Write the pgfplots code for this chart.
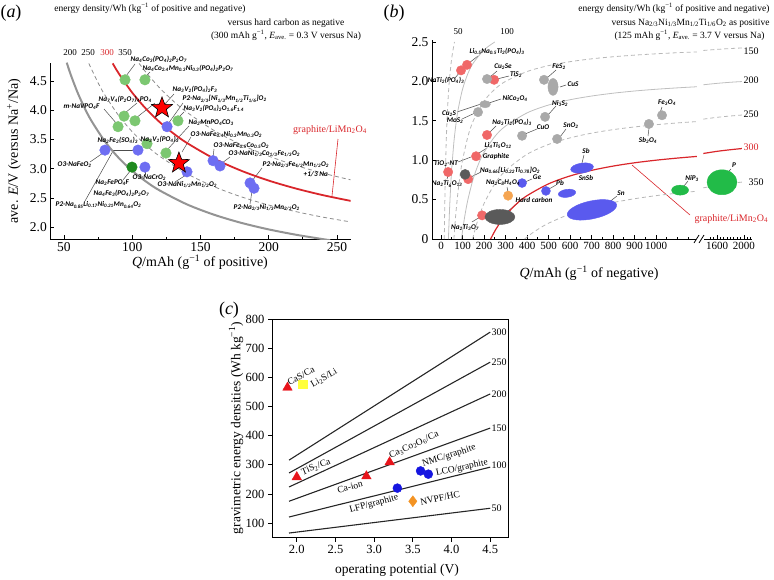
\documentclass[border=0pt]{standalone}
\usepackage{fontspec}
\setmainfont{Liberation Serif}
\newfontfamily\lab{Carlito}
\usepackage{pgfplots}
\pgfplotsset{compat=1.18}
\newcommand\s[1]{\textsubscript{#1}}
\newcommand\su[1]{\textsuperscript{#1}}
\newcommand\fs[1]{\fontsize{#1}{#1}\selectfont}
\newcommand\fl{\fontsize{7.2}{7.4}\selectfont\lab\bfseries\itshape}
\definecolor{agreen}{HTML}{7CC771}
\definecolor{dgreen}{HTML}{1F8A1F}
\definecolor{ablue}{HTML}{6E6EF2}
\definecolor{ared}{HTML}{D9262B}
\definecolor{bred}{HTML}{F06868}
\definecolor{bgray}{HTML}{A9A9A9}
\definecolor{bdgray}{HTML}{5A5A5A}
\definecolor{bblue}{HTML}{5A5AEE}
\definecolor{borange}{HTML}{F5A552}
\definecolor{bgreen}{HTML}{22BB48}
\definecolor{cred}{HTML}{E8141B}
\definecolor{cyellow}{HTML}{FFFF3C}
\definecolor{cblue}{HTML}{1515E0}
\definecolor{corange}{HTML}{F39323}
\pgfdeclareplotmark{fstar}{%
  \pgfpathmoveto{\pgfpointpolar{90}{\pgfplotmarksize}}%
  \pgfpathlineto{\pgfpointpolar{126}{0.42\pgfplotmarksize}}%
  \pgfpathlineto{\pgfpointpolar{162}{\pgfplotmarksize}}%
  \pgfpathlineto{\pgfpointpolar{198}{0.42\pgfplotmarksize}}%
  \pgfpathlineto{\pgfpointpolar{234}{\pgfplotmarksize}}%
  \pgfpathlineto{\pgfpointpolar{270}{0.42\pgfplotmarksize}}%
  \pgfpathlineto{\pgfpointpolar{306}{\pgfplotmarksize}}%
  \pgfpathlineto{\pgfpointpolar{342}{0.42\pgfplotmarksize}}%
  \pgfpathlineto{\pgfpointpolar{18}{\pgfplotmarksize}}%
  \pgfpathlineto{\pgfpointpolar{54}{0.42\pgfplotmarksize}}%
  \pgfpathclose
  \pgfusepathqfillstroke
}
\tikzset{lead/.style={draw=black!70,line width=0.5pt}}
\begin{document}
\begin{tikzpicture}
\useasboundingbox (0,0) rectangle (774pt,-579pt);
% ---------- leader lines (under everything)
\begin{scope}[x=1pt,y=-1pt]
 % panel a
 \draw[lead] (135,64)--(126,76);
 \draw[lead] (150,72)--(145,77);
 \draw[lead] (174,94)--(164,105);
 \draw[lead] (183,103)--(168,124);
 \draw[lead] (184,112)--(178,118);
 \draw[lead] (189,126)--(167,150);
 \draw[lead] (191,137)--(182,152);
 \draw[lead] (214,149)--(213,157);
 \draw[lead] (230,157)--(222,163);
 \draw[lead] (137,103)--(125,113);
 \draw[lead] (155,103)--(136,118);
 \draw[lead] (104,109)--(117,124);
 \draw[lead] (113,150)--(134,150);
 \draw[lead] (150,141)--(148,143);
 \draw[lead] (90,162)--(103,153);
 \draw[lead] (123,180)--(131,170);
 \draw[lead] (85,201)--(113,151);
 \draw[lead] (145,175)--(145,170);
 \draw[lead] (175,182)--(186,175);
 \draw[lead] (262,168)--(252,181);
 \draw[lead] (250,204)--(252,191);
 \draw[ared,line width=0.6pt] (338,139)--(332,196);
 % panel b
 \draw[lead] (478,56)--(469,63);
 \draw[lead] (455,78)--(460,72);
 \draw[lead] (497,71)--(490,77);
 \draw[lead] (509,76)--(497,79);
 \draw[lead] (556,70)--(547,78);
 \draw[lead] (566,85)--(560,87);
 \draw[lead] (501,99)--(489,103);
 \draw[lead] (457,112)--(481,104);
 \draw[lead] (462,119)--(475,113);
 \draw[lead] (556,106)--(548,115);
 \draw[lead] (496,126)--(490,132);
 \draw[lead] (537,129)--(525,134);
 \draw[lead] (566,129)--(560,137);
 \draw[lead] (487,148)--(479,153);
 \draw[lead] (458,162)--(471,157);
 \draw[lead] (447,179)--(448,176);
 \draw[lead] (481,172)--(471,177);
 \draw[lead] (532,179)--(525,182);
 \draw[lead] (507,187)--(508,192);
 \draw[lead] (556,185)--(549,189);
 \draw[lead] (584,155)--(582,163);
 \draw[lead] (518,203)--(508,211);
 \draw[lead] (472,222)--(480,217);
 \draw[lead] (617,196)--(608,203);
 \draw[lead] (688,181)--(684,186);
 \draw[lead] (731,169)--(727,173);
 \draw[lead] (662,107)--(660,113);
 \draw[lead] (648,136)--(649,128);
 \draw[ared,line width=0.6pt] (632,165)--(690,215);
\end{scope}
% ================= panel (a)
\begin{axis}[
  at={(50.35pt,-239.2pt)}, anchor=south west,
  scale only axis, width=300.3pt, height=176.4pt,
  xmin=40, xmax=260, ymin=1.8, ymax=4.81,
  axis x line=bottom, axis y line=left,
  axis line style={-, line width=0.9pt},
  tick align=inside,
  xtick={50,100,150,200,250}, xticklabels={50,100,150,200,250},
  minor xtick={75,125,175,225},
  ytick={2.0,2.5,3.0,3.5,4.0,4.5}, yticklabels={2.0,2.5,3.0,3.5,4.0,4.5},
  tick label style={font=\fs{13.5}},
  major tick length=4pt, minor tick length=2.5pt,
  every tick/.style={black, line width=0.8pt},
]
\addplot[black!42, line width=2pt, smooth] coordinates {(52,4.813)(55,4.603)(60,4.300)(65,4.044)(70,3.824)(80,3.467)(90,3.189)(100,2.967)(110,2.785)(120,2.633)(140,2.395)(160,2.217)(180,2.078)(200,1.967)(220,1.876)(240,1.800)(245,1.783)};
\addplot[black!45, line width=0.8pt, dash pattern=on 4pt off 3pt, smooth] coordinates {(68.2,4.799)(75,4.467)(80,4.258)(90,3.911)(100,3.633)(110,3.406)(120,3.217)(140,2.919)(160,2.696)(180,2.522)(200,2.383)(220,2.270)(240,2.175)(260,2.095)};
\addplot[ared, line width=1.8pt, smooth] coordinates {(85.7,4.8)(90,4.633)(100,4.3)(110,4.027)(120,3.8)(130,3.608)(140,3.443)(160,3.175)(180,2.967)(200,2.8)(220,2.664)(240,2.55)(260,2.454)};
\addplot[black!45, line width=0.8pt, dash pattern=on 4pt off 3pt, smooth] coordinates {(105,4.8)(110,4.649)(120,4.383)(130,4.159)(140,3.967)(160,3.654)(180,3.411)(200,3.217)(220,3.058)(240,2.925)(260,2.813)};
\addplot[only marks, mark=*, mark size=5.3pt, color=agreen, mark options={fill=agreen,draw=agreen}] coordinates {(94.7,4.52)(109.3,4.52)(133.5,3.82)(94.0,3.90)(102.0,3.82)(89.6,3.72)(110.8,3.43)(124.7,3.27)};
\addplot[only marks, mark=*, mark size=5.3pt, color=dgreen, mark options={fill=dgreen,draw=dgreen}] coordinates {(99.8,3.03)};
\addplot[only marks, mark=*, mark size=5.3pt, color=ablue, mark options={fill=ablue,draw=ablue}] coordinates {(125.5,3.72)(80.0,3.32)(104.2,3.32)(109.3,3.03)(140.1,2.95)(159.2,3.14)(164.3,3.05)(186.3,2.76)(189.2,2.67)};
\addplot[only marks, mark=fstar, mark size=11pt, mark options={fill=red, draw=black, line width=0.6pt}] coordinates {(121.8,4.04)(134.2,3.10)};
\end{axis}
% ================= panel (b)
\begin{axis}[
  at={(432pt,-239pt)}, anchor=south west,
  scale only axis, width=320.1pt, height=198.6pt,
  xmin=-42, xmax=1447, ymin=0, ymax=2.52,
  axis x line=bottom, axis y line=left,
  axis line style={-, line width=0.9pt},
  tick align=inside,
  xtick={0,100,200,300,400,500,600,700,800,900,1000,1284,1409},
  xticklabels={0,100,200,300,400,500,600,700,800,900,1000,1600,2000},
  minor xtick={50,150,250,350,450,550,650,750,850,950,1050,1100,1150,1253,1268,1299,1315,1331,1346,1362,1378,1393,1425,1440},
  ytick={0,0.5,1,1.5,2,2.5}, yticklabels={0,0.5,1.0,1.5,2.0,2.5},
  xticklabel style={font=\fs{11}},
  yticklabel style={font=\fs{13.5}},
  major tick length=4pt, minor tick length=2.5pt,
  every tick/.style={black, line width=0.8pt},
]
\addplot[black!28, line width=0.8pt, dash pattern=on 4pt off 3pt, smooth] coordinates {(15.2,0)(15.5,0.074)(16,0.175)(17,0.359)(18,0.522)(20,0.8)(22.5,1.078)(25,1.3)(30,1.633)(35,1.871)(40,2.05)(50,2.3)(62.5,2.5)};
\addplot[black!25, line width=0.8pt, smooth] coordinates {(34.5,0)(35,0.043)(36,0.122)(38,0.268)(40,0.4)(45,0.678)(50,0.9)(60,1.233)(70,1.471)(80,1.65)(100,1.9)(125,2.1)(150,2.233)(200,2.4)(250,2.5)};
\addplot[black!28, line width=0.8pt, dash pattern=on 4pt off 3pt, smooth] coordinates {(60,0)(62,0.081)(65,0.192)(70,0.357)(80,0.625)(90,0.833)(100,1.0)(125,1.3)(150,1.5)(200,1.75)(250,1.9)(300,2.0)(400,2.125)(500,2.2)(600,2.25)(700,2.286)(800,2.3125)(900,2.333)(1000,2.35)(1100,2.364)(1190,2.374)};
\addplot[black!28, line width=0.8pt, dash pattern=on 4pt off 3pt, smooth] coordinates {(1220,2.3925)(1284,2.406)(1346.5,2.417)(1399.6,2.424)};
\addplot[black!25, line width=0.8pt, smooth] coordinates {(95.2,0)(100,0.1)(110,0.282)(125,0.5)(150,0.767)(175,0.957)(200,1.1)(250,1.3)(300,1.433)(400,1.6)(500,1.7)(600,1.767)(700,1.814)(800,1.85)(900,1.878)(1000,1.9)(1100,1.918)(1190,1.932)};
\addplot[black!25, line width=0.8pt, smooth] coordinates {(1220,1.957)(1284,1.975)(1346.5,1.989)(1399.6,1.998)};
\addplot[black!28, line width=0.8pt, dash pattern=on 4pt off 3pt, smooth] coordinates {(147,0)(160,0.1375)(175,0.271)(200,0.45)(250,0.7)(300,0.867)(400,1.075)(500,1.2)(600,1.283)(700,1.343)(800,1.3875)(900,1.422)(1000,1.45)(1100,1.473)(1190,1.490)};
\addplot[black!28, line width=0.8pt, dash pattern=on 4pt off 3pt, smooth] coordinates {(1220,1.521)(1284,1.544)(1346.5,1.561)(1399.6,1.573)};
\addplot[ared, line width=1.2pt, smooth] coordinates {(230.8,0)(250,0.1)(275,0.209)(300,0.3)(350,0.443)(400,0.55)(500,0.7)(600,0.8)(700,0.871)(800,0.925)(900,0.967)(1000,1.0)(1100,1.027)(1190,1.048)};
\addplot[ared, line width=1.2pt, smooth] coordinates {(1220,1.085)(1284,1.1125)(1346.5,1.133)(1399.6,1.148)};
\addplot[black!28, line width=0.8pt, dash pattern=on 4pt off 3pt, smooth] coordinates {(388.9,0)(420,0.067)(450,0.122)(500,0.2)(600,0.317)(700,0.4)(800,0.4625)(900,0.511)(1000,0.55)(1100,0.582)(1190,0.606)};
\addplot[black!28, line width=0.8pt, dash pattern=on 4pt off 3pt, smooth] coordinates {(1220,0.649)(1284,0.681)(1346.5,0.706)(1399.6,0.722)};
% points
\addplot[only marks, mark=*, mark size=4.7pt, color=bred, mark options={fill=bred,draw=bred}] coordinates {(121,2.21)(93,2.14)(247,2.02)(214,1.32)(163,1.05)(33,0.85)(126,0.76)(191,0.30)};
\addplot[only marks, mark=*, mark size=4.7pt, color=bgray, mark options={fill=bgray,draw=bgray}] coordinates {(214,2.03)(479,2.02)(172,1.61)(484,1.55)(377,1.31)(540,1.27)(967,1.46)(1028,1.57)};
\addplot[only marks, mark=*, mark size=3.6pt, color=bgray, mark options={fill=bgray,draw=bgray,xscale=1.5}] coordinates {(205,1.71)};
\addplot[only marks, mark=*, mark size=8.5pt, color=bgray, mark options={fill=bgray,draw=bgray,xscale=0.6}] coordinates {(521,1.93)};
\addplot[only marks, mark=*, mark size=5pt, color=bdgray, mark options={fill=bdgray,draw=bdgray}] coordinates {(112,0.82)};
\addplot[only marks, mark=*, mark size=7.5pt, color=bdgray, mark options={fill=bdgray,draw=bdgray,xscale=2}] coordinates {(274,0.28)};
\addplot[only marks, mark=*, mark size=4.5pt, color=bblue, mark options={fill=bblue,draw=bblue}] coordinates {(377,0.71)(488,0.61)};
\addplot[only marks, mark=*, mark size=4pt, color=bblue, mark options={fill=bblue,draw=bblue,rotate=8,xscale=2.2}] coordinates {(586,0.58)};
\addplot[only marks, mark=*, mark size=5pt, color=bblue, mark options={fill=bblue,draw=bblue,rotate=8,xscale=2.3}] coordinates {(656,0.90)};
\addplot[only marks, mark=*, mark size=9pt, color=bblue, mark options={fill=bblue,draw=bblue,rotate=12,xscale=2.8}] coordinates {(702,0.37)};
\addplot[only marks, mark=*, mark size=4.7pt, color=borange, mark options={fill=borange,draw=borange}] coordinates {(312,0.55)};
\addplot[only marks, mark=*, mark size=5pt, color=bgreen, mark options={fill=bgreen,draw=bgreen,xscale=1.7}] coordinates {(1112,0.62)};
\addplot[only marks, mark=*, mark size=12.5pt, color=bgreen, mark options={fill=bgreen,draw=bgreen,xscale=1.2}] coordinates {(1307,0.72)};
\end{axis}
% ================= panel (c)
\begin{axis}[
  at={(272pt,-537.7pt)}, anchor=south west,
  scale only axis, width=236pt, height=218.7pt,
  xmin=1.68, xmax=4.73, ymin=50, ymax=800,
  axis line style={line width=0.7pt},
  tick align=outside, tick pos=left,
  xtick={2,2.5,3,3.5,4,4.5}, xticklabels={2.0,2.5,3.0,3.5,4.0,4.5},
  ytick={100,200,300,400,500,600,700,800}, yticklabels={100,200,300,400,500,600,700,800},
  tick label style={font=\fs{12.5}},
  major tick length=4pt,
  every tick/.style={black, line width=0.7pt},
]
\addplot[black!85, line width=1.1pt] coordinates {(1.9,66)(4.5,151)};
\addplot[black!85, line width=1.1pt] coordinates {(1.9,121)(4.5,292)};
\addplot[black!85, line width=1.1pt] coordinates {(1.9,175)(4.5,426)};
\addplot[black!85, line width=1.1pt] coordinates {(1.9,224)(4.5,543)};
\addplot[black!85, line width=1.1pt] coordinates {(1.9,272)(4.5,652)};
\addplot[black!85, line width=1.1pt] coordinates {(1.9,316)(4.5,755)};
\addplot[only marks, mark=triangle*, mark size=5.5pt, color=cred, mark options={fill=cred,draw=cred}] coordinates {(1.88,565)(2.0,258)(2.9,261)(3.2,309)};
\addplot[only marks, mark=square*, mark size=4.3pt, color=cyellow, mark options={fill=cyellow,draw=cyellow}] coordinates {(2.08,577)};
\addplot[only marks, mark=*, mark size=4.5pt, color=cblue, mark options={fill=cblue,draw=cblue}] coordinates {(3.3,220)(3.6,279)(3.7,268)};
\addplot[only marks, mark=diamond*, mark size=5.5pt, color=corange, mark options={fill=corange,draw=corange}] coordinates {(3.5,175)};
\end{axis}
% ---------- text
\begin{scope}[x=1pt,y=-1pt]
 \node[font=\fs{18}] at (11,13) {(\textit{a})};
 \node[font=\fs{18}] at (394,13) {(\textit{b})};
 \node[font=\fs{18}] at (229,310) {(\textit{c})};
 % headers a
 \node[font=\fs{9.5}] at (150,8) {energy density/Wh (kg\su{−1} of positive and negative)};
 \node[font=\fs{9.5}] at (286,23) {versus hard carbon as negative};
 \node[font=\fs{9.5}] at (286,35) {(300 mAh g\su{−1}, \textit{E}\s{ave.} = 0.3 V versus Na)};
 % headers b
 \node[font=\fs{9.5},anchor=east] at (773,8) {energy density/Wh (kg\su{−1} of positive and negative)};
 \node[font=\fs{9.5},anchor=east] at (773,23) {versus Na\s{2/3}Ni\s{1/3}Mn\s{1/2}Ti\s{1/6}O\s{2} as positive};
 \node[font=\fs{9.5},anchor=east] at (768,35) {(125 mAh g\su{−1}, \textit{E}\s{ave.} = 3.7 V versus Na)};
 % axis labels
 \node[font=\fs{14},rotate=90] at (14,151) {ave. \textit{E}/V (versus Na\su{+}/Na)};
 \node[font=\fs{14}] at (200,262) {\textit{Q}/mAh (g\su{−1} of positive)};
 \node[font=\fs{14}] at (589,273) {\textit{Q}/mAh (g\su{−1} of negative)};
 \node[font=\fs{13.5},rotate=90] at (236,428) {gravimetric energy densities (Wh kg\su{−1})};
 \node[font=\fs{13.5}] at (397,570) {operating potential (V)};
 % curve labels a
 \node[font=\fs{9}] at (70,53) {200};
 \node[font=\fs{9}] at (88,53) {250};
 \node[font=\fs{9},text=ared] at (107,53) {300};
 \node[font=\fs{9}] at (125,53) {350};
 \node[font=\fs{10},text=ared] at (330,130) {graphite/LiMn\s{2}O\s{4}};
 % curve labels b
 \node[font=\fs{9}] at (458,32) {50};
 \node[font=\fs{9}] at (507,32) {100};
 \node[font=\fs{10}] at (751,51) {150};
 \node[font=\fs{10}] at (751,80) {200};
 \node[font=\fs{10}] at (751,114) {250};
 \node[font=\fs{10},text=ared] at (751,147) {300};
 \node[font=\fs{10}] at (756,182) {350};
 \node[font=\fs{10},text=ared,anchor=west] at (691,219) {graphite/LiMn\s{2}O\s{4}};
 % curve labels c
 \node[font=\fs{10},anchor=west] at (488,332) {300};
 \node[font=\fs{10},anchor=west] at (488,362) {250};
 \node[font=\fs{10},anchor=west] at (488,394) {200};
 \node[font=\fs{10},anchor=west] at (488,428) {150};
 \node[font=\fs{10},anchor=west] at (488,465) {100};
 \node[font=\fs{10},anchor=west] at (488,508) {50};
 % point labels c
 \node[font=\fs{9.5},rotate=28] at (301,376) {CaS/Ca};
 \node[font=\fs{9.5},rotate=30] at (324,378) {Li\s{2}S/Li};
 \node[font=\fs{9.5},rotate=22] at (316,467) {TiS\s{2}/Ca};
 \node[font=\fs{9.5},rotate=15] at (350,487) {Ca-ion};
 \node[font=\fs{9.5},rotate=25] at (414,445) {Ca\s{3}Co\s{2}O\s{6}/Ca};
 \node[font=\fs{9.5},rotate=18] at (449,456) {NMC/graphite};
 \node[font=\fs{9.5},rotate=12] at (462,468) {LCO/graphite};
 \node[font=\fs{9.5},rotate=15] at (374,504) {LFP/graphite};
 \node[font=\fs{9.5},rotate=12] at (440,498) {NVPF/HC};
 % point labels a
 \tikzset{every node/.append style={inner sep=0.5pt}}
 \node[font=\fl,anchor=west] at (130,59) {Na\s{4}Co\s{3}(PO\s{4})\s{2}P\s{2}O\s{7}};
 \node[font=\fl,anchor=west] at (142,68) {Na\s{4}Co\s{2.4}Mn\s{0.3}Ni\s{0.3}(PO\s{4})\s{2}P\s{2}O\s{7}};
 \node[font=\fl,anchor=west] at (172,89) {Na\s{3}V\s{2}(PO\s{4})\s{2}F\s{3}};
 \node[font=\fl,anchor=west] at (182,99) {P2-Na\s{2/3}[Ni\s{1/3}Mn\s{1/2}Ti\s{1/6}]O\s{2}};
 \node[font=\fl,anchor=west] at (183,108) {Na\s{3}V\s{2}(PO\s{4})\s{2}O\s{1.6}F\s{1.4}};
 \node[font=\fl,anchor=west] at (188,123) {Na\s{2}MnPO\s{4}CO\s{3}};
 \node[font=\fl,anchor=west] at (190,134) {O3-NaFe\s{0.4}Ni\s{0.3}Mn\s{0.3}O\s{2}};
 \node[font=\fl,anchor=west] at (213,146) {O3-NaFe\s{0.5}Co\s{0.5}O\s{2}};
 \node[font=\fl,anchor=west] at (228,154) {O3-NaNi\s{1/3}Co\s{1/3}Fe\s{1/3}O\s{2}};
 \node[font=\fl,anchor=west] at (98,99) {Na\s{7}V\s{4}(P\s{2}O\s{7})\s{4}PO\s{4}};
 \node[font=\fl,anchor=west] at (63,107) {m-NaVPO\s{4}F};
 \node[font=\fl,anchor=west] at (97,140) {Na\s{2}Fe\s{2}(SO\s{4})\s{3}};
 \node[font=\fl,anchor=west] at (140,139) {Na\s{3}V\s{2}(PO\s{4})\s{3}};
 \node[font=\fl,anchor=west] at (57,165) {O3-NaFeO\s{2}};
 \node[font=\fl,anchor=west] at (95,183) {Na\s{2}FePO\s{4}F};
 \node[font=\fl,anchor=west] at (93,193) {Na\s{4}Fe\s{3}(PO\s{4})\s{2}P\s{2}O\s{7}};
 \node[font=\fl,anchor=west] at (55,205) {P2-Na\s{0.85}Li\s{0.17}Ni\s{0.21}Mn\s{0.64}O\s{2}};
 \node[font=\fl,anchor=west] at (132,178) {O3-NaCrO\s{2}};
 \node[font=\fl,anchor=west] at (157,185) {O3-NaNi\s{1/2}Mn\s{1/2}O\s{2}};
 \node[font=\fl,anchor=west] at (262,165) {P2-Na\s{2/3}Fe\s{1/2}Mn\s{1/2}O\s{2}};
 \node[font=\fl,anchor=west] at (303,174) {+1/3 Na};
 \node[font=\fl,anchor=west] at (233,208) {P2-Na\s{2/3}Ni\s{1/3}Mn\s{2/3}O\s{2}};
 % point labels b
 \node[font=\fl] at (497,51) {Li\s{0.5}Na\s{0.5}Ti\s{2}(PO\s{4})\s{3}};
 \node[font=\fl] at (446,80) {NaTi\s{2}(PO\s{4})\s{3}};
 \node[font=\fl] at (503,67) {Cu\s{2}Se};
 \node[font=\fl] at (516,74) {TiS\s{2}};
 \node[font=\fl] at (559,67) {FeS\s{2}};
 \node[font=\fl] at (573,84) {CuS};
 \node[font=\fl] at (515,98) {NiCo\s{2}O\s{4}};
 \node[font=\fl] at (449,114) {Cu\s{2}S};
 \node[font=\fl] at (455,121) {MoS\s{2}};
 \node[font=\fl] at (560,103) {Ni\s{3}S\s{2}};
 \node[font=\fl] at (512,122) {Na\s{3}Ti\s{2}(PO\s{4})\s{3}};
 \node[font=\fl] at (543,127) {CuO};
 \node[font=\fl] at (571,126) {SnO\s{2}};
 \node[font=\fl] at (498,145) {Li\s{4}Ti\s{5}O\s{12}};
 \node[font=\fl] at (496,157) {Graphite};
 \node[font=\fl] at (446,163) {TiO\s{2}-NT};
 \node[font=\fl] at (447,184) {Na\s{2}Ti\s{6}O\s{13}};
 \node[font=\fl] at (510,170) {Na\s{0.66}[Li\s{0.22}Ti\s{0.78}]O\s{2}};
 \node[font=\fl] at (537,177) {Ge};
 \node[font=\fl] at (503,183) {Na\s{2}C\s{8}H\s{4}O\s{4}};
 \node[font=\fl] at (560,183) {Pb};
 \node[font=\fl] at (586,178) {SnSb};
 \node[font=\fl] at (586,151) {Sb};
 \node[font=\fl] at (534,200) {Hard carbon};
 \node[font=\fl] at (465,227) {Na\s{2}Ti\s{3}O\s{7}};
 \node[font=\fl] at (621,193) {Sn};
 \node[font=\fl] at (692,178) {NiP\s{3}};
 \node[font=\fl] at (734,165) {P};
 \node[font=\fl] at (667,103) {Fe\s{3}O\s{4}};
 \node[font=\fl] at (648,140) {Sb\s{2}O\s{4}};
\end{scope}
% axis break b
\begin{scope}[x=1pt,y=-1pt]
 \fill[white] (696,235) rectangle (704,243);
 \draw[black, line width=0.8pt] (694,243)--(699,235);
 \draw[black, line width=0.8pt] (699,243)--(704,235);
\end{scope}
\end{tikzpicture}
\end{document}
